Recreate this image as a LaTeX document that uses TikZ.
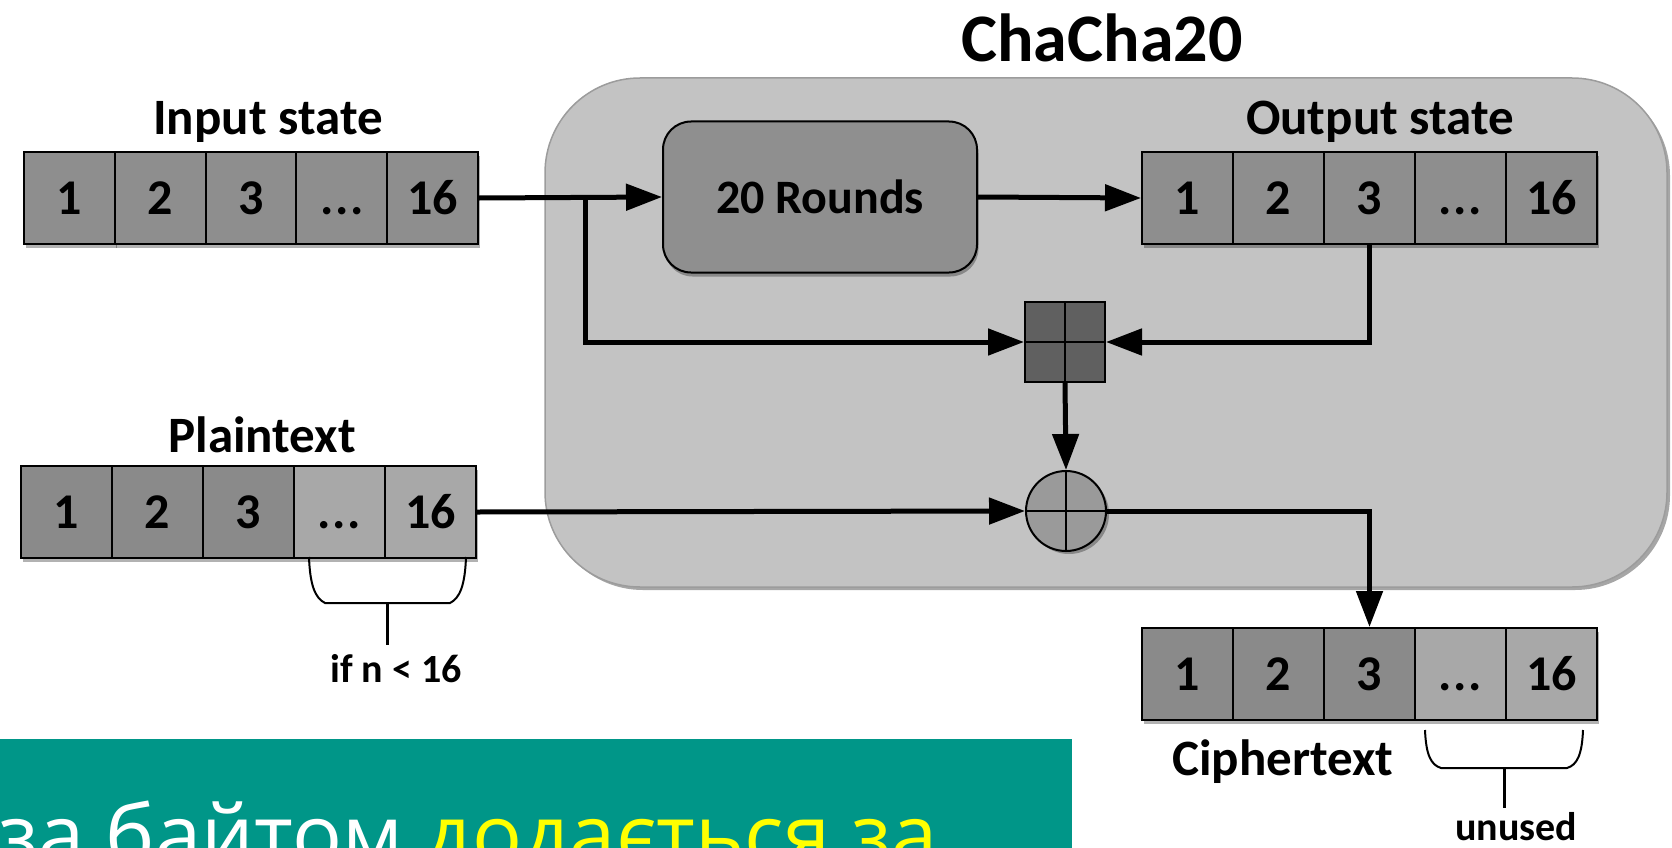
\documentclass[tikz,border=0pt]{standalone}
\usepackage{fontspec}
\setmainfont{Carlito}
\newfontfamily\bannerfont{Open Sans}
\usetikzlibrary{arrows.meta,shadows}

\definecolor{cellgray}{HTML}{8E8E8E}
\definecolor{celldark}{HTML}{8A8A8A}
\definecolor{celllight}{HTML}{A8A8A8}
\definecolor{panelgray}{HTML}{C3C3C3}
\definecolor{panelline}{HTML}{9C9C9C}
\definecolor{roundsgray}{HTML}{8F8F8F}
\definecolor{gridgray}{HTML}{606060}
\definecolor{xorgray}{HTML}{9A9A9A}
\definecolor{bannerteal}{HTML}{009688}
\definecolor{banneryellow}{HTML}{FFFF00}

% three baseline dots, kept apart so the font does not merge them
\newcommand\celldots{.\kern1.5pt.\kern1.5pt.}

\begin{document}
\begin{tikzpicture}[x=1pt,y=-1pt,
  digitfont/.style={font=\fontsize{50}{60}\selectfont\bfseries},
  labelfont/.style={font=\fontsize{51}{61}\selectfont\bfseries},
  titlefont/.style={font=\fontsize{68}{80}\selectfont\bfseries},
  smallfont/.style={font=\fontsize{40}{48}\selectfont\bfseries},
  softshadow/.style={drop shadow={shadow xshift=1.5pt, shadow yshift=-4pt, fill=black, opacity=0.3}},
  cell/.style={draw=black, line width=2pt, minimum width=91pt, minimum height=92pt,
    inner sep=0pt, text height=32pt, text depth=0pt, anchor=north west, digitfont, softshadow},
  label/.style={labelfont, anchor=base, inner sep=0pt},
  note/.style={smallfont, anchor=base, inner sep=0pt},
  arr/.style={line width=5pt, -{Triangle[length=36pt,width=26pt]}},
  bracket/.style={line width=2pt},
  stem/.style={line width=3pt},
]
\useasboundingbox (0,0) rectangle (1672,848);

% ChaCha20 block
\path[fill=panelgray, draw=panelline, line width=1.5pt, rounded corners=95pt,
  drop shadow={shadow xshift=3pt, shadow yshift=-3pt, fill=black, opacity=0.35}]
  (545,78) rectangle (1667,587);
\node[titlefont, anchor=base, inner sep=0pt] (title) at (1102,62) {ChaCha20};

% state rows
\node[label] (inlbl) at (268,135) {Input state};
\foreach \t [count=\i] in {1,2,3,\celldots,16}
  \node[cell, fill=cellgray] (in\i) at ({23+(\i-1)*90.8},151) {\t};

\node[label] (outlbl) at (1380,135) {Output state};
\foreach \t [count=\i] in {1,2,3,\celldots,16}
  \node[cell, fill=cellgray] (out\i) at ({1141+(\i-1)*91},151) {\t};

\node[label] (ptlbl) at (262,452) {Plaintext};
\foreach \t/\c [count=\i] in {1/celldark,2/celldark,3/celldark,\celldots/celllight,16/celllight}
  \node[cell, fill=\c] (pt\i) at ({20+(\i-1)*91},465) {\t};

\foreach \t/\c [count=\i] in {1/celldark,2/celldark,3/celldark,\celldots/celllight,16/celllight}
  \node[cell, fill=\c] (ct\i) at ({1141+(\i-1)*91},627) {\t};
\node[label] (ctlbl) at (1283,775) {Ciphertext};

% rounds, combiner and xor
\node[draw, line width=2pt, fill=roundsgray, rounded corners=28pt,
  minimum width=314pt, minimum height=151pt, font=\fontsize{48}{58}\selectfont\bfseries,
  softshadow] (rounds) at (820,197) {20 Rounds};

\node[draw, line width=2pt, fill=gridgray, minimum size=80pt, inner sep=0pt] (sq) at (1065,342) {};
\draw[line width=2pt] (sq.north) -- (sq.south) (sq.west) -- (sq.east);

\node[circle, draw, line width=2pt, fill=xorgray, minimum size=80pt, inner sep=0pt,
  drop shadow={shadow xshift=3pt, shadow yshift=-3pt, fill=black, opacity=0.3}] (xor) at (1066,511) {};
\draw[line width=2pt] (xor.north) -- (xor.south) (xor.west) -- (xor.east);

% data flow
\coordinate (split) at (585,197);
\draw[arr] (in5.east) -- (rounds.west);
\draw[arr] (split) |- (sq.west);
\draw[arr] (rounds.east) -- (out1.west);
\draw[arr] (out3.south) |- (sq.east);
\draw[arr] (sq.south) -- (xor.north);
\draw[arr] (pt5.east) -- (xor.west);
\draw[arr] (xor.east) -| (ct3.north);

% brackets under the trailing cells
\draw[bracket] (309,557) .. controls (310,585) and (315,598) .. (325,603)
  -- (450,603) .. controls (460,598) and (465,585) .. (466,557);
\coordinate (ptbr) at (387,603);
\coordinate (ptstem) at (387,645);
\draw[stem] (ptbr) -- (ptstem);
\node[note] (ifn) at (396,682) {if n < 16};

\draw[bracket] (1425,730) .. controls (1426,755) and (1431,765) .. (1441,768)
  -- (1567,768) .. controls (1577,765) and (1582,755) .. (1583,730);
\coordinate (ctbr) at (1504,768);
\coordinate (ctstem) at (1504,808);
\draw[stem] (ctbr) -- (ctstem);
\node[note] (unused) at (1516,840) {unused};

% caption strip
\begin{scope}
  \clip (0,739) rectangle (1072,848);
  \fill[bannerteal] (0,739) rectangle (1072,848);
  \node[anchor=base west, inner sep=0pt, font=\bannerfont\fontsize{83}{100}\selectfont] (caption) at (-2,864)
    {\textcolor{white}{за байтом }\textcolor{banneryellow}{додається за}};
\end{scope}
\end{tikzpicture}
\end{document}
